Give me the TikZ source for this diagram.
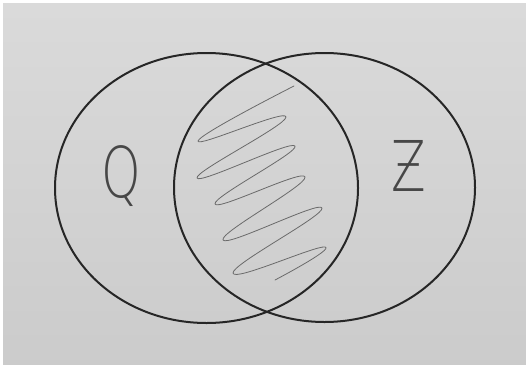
\documentclass[tikz,border=0pt]{standalone}
\usepackage{fontspec}
\newfontfamily\handfont{DejaVu Sans ExtraLight}
\definecolor{paper}{HTML}{D6D6D6}
\definecolor{ink}{HTML}{262626}
\definecolor{pencil}{HTML}{6A6A6A}
\tikzset{
  setline/.style={draw=ink, line width=2pt},
  scribble/.style={draw=pencil, line width=0.8pt, line cap=round, line join=round},
  letter/.style={text=ink!85, font=\handfont\fontsize{70}{70}\selectfont, inner sep=0pt, xscale=0.72, anchor=base}
}
\begin{document}
\begin{tikzpicture}[x=1pt,y=-1pt]
  \useasboundingbox (0,0) rectangle (526,364);
  \fill[white] (0,0) rectangle (526,364);
  \shade[top color=paper!90!white, bottom color=paper!95!black] (3,3) rectangle (526,364);
  % sets
  \draw[setline] (206.5,188) ellipse [x radius=151.5pt, y radius=135pt];
  \draw[setline] (324.5,187.5) ellipse [x radius=150.5pt, y radius=134.5pt];
  % labels
  \node[letter] (q) at (121,197) {Q};
  \node[letter] (z) at (409,191) {Ƶ};
  % shading of the intersection
  \draw[scribble] plot[smooth, tension=0.85] coordinates {
    (294,86) (198,141) (286,117) (197,178) (295,146) (215,204)
    (305,177) (223,240) (322,208) (233,273) (325,247) (275,280)};
\end{tikzpicture}
\end{document}
